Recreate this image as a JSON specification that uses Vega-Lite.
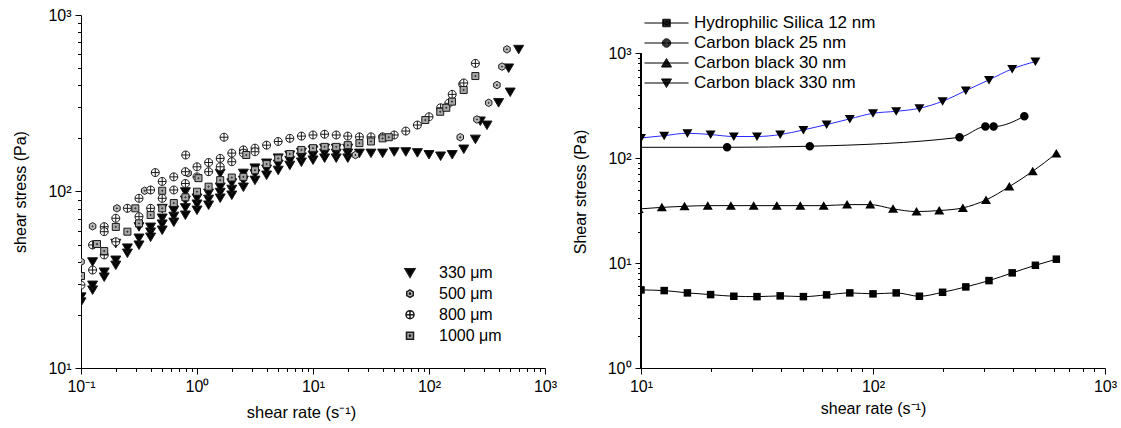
{
  "$schema": "https://vega.github.io/schema/vega-lite/v6.json",
  "background": "white",
  "padding": {"left": 12, "top": 7, "right": 5, "bottom": 5},
  "spacing": 15,
  "resolve": {
    "scale": {"shape": "independent", "fill": "independent", "stroke": "independent", "color": "independent"}
  },
  "config": {
    "view": {"stroke": null},
    "font": "Liberation Sans",
    "axis": {
      "domainColor": "black", "domainWidth": 1, "tickColor": "black", "tickWidth": 1,
      "labelColor": "black", "titleColor": "black", "labelFont": "Liberation Sans", "titleFont": "Liberation Sans",
      "labelFontSize": 16, "titleFontSize": 16, "titleFontWeight": "normal", "grid": false,
      "labelFlush": false, "labelOverlap": false, "labelBound": false, "labelPadding": 4
    },
    "legend": {"labelFont": "Liberation Sans", "labelColor": "black", "labelLimit": 400}
  },
  "hconcat": [
    {
      "width": 464,
      "height": 353,
      "data": {"values": [
        {"p":"330 μm","x":0.1,"y":23.7},{"p":"330 μm","x":0.1,"y":25.3},
        {"p":"330 μm","x":0.1259,"y":27.7},{"p":"330 μm","x":0.1259,"y":29.5},{"p":"330 μm","x":0.1259,"y":40},
        {"p":"330 μm","x":0.1585,"y":32.8},{"p":"330 μm","x":0.1585,"y":35},
        {"p":"330 μm","x":0.1995,"y":38.3},{"p":"330 μm","x":0.1995,"y":40.9},{"p":"330 μm","x":0.1995,"y":50.9},
        {"p":"330 μm","x":0.2512,"y":44.8},{"p":"330 μm","x":0.2512,"y":47.9},
        {"p":"330 μm","x":0.3162,"y":49.8},{"p":"330 μm","x":0.3162,"y":54.5},{"p":"330 μm","x":0.3162,"y":63.2},
        {"p":"330 μm","x":0.3981,"y":55.2},{"p":"330 μm","x":0.3981,"y":59},{"p":"330 μm","x":0.3981,"y":62.9},
        {"p":"330 μm","x":0.5012,"y":60.5},{"p":"330 μm","x":0.5012,"y":65.5},{"p":"330 μm","x":0.5012,"y":70.8},{"p":"330 μm","x":0.5012,"y":80.3},
        {"p":"330 μm","x":0.631,"y":67.1},{"p":"330 μm","x":0.631,"y":72.5},{"p":"330 μm","x":0.631,"y":78.5},
        {"p":"330 μm","x":0.7943,"y":73.6},{"p":"330 μm","x":0.7943,"y":81},{"p":"330 μm","x":0.7943,"y":89.5},{"p":"330 μm","x":0.7943,"y":99.7},
        {"p":"330 μm","x":1,"y":78.5},{"p":"330 μm","x":1,"y":85},{"p":"330 μm","x":1,"y":91.9},
        {"p":"330 μm","x":1.259,"y":83.9},{"p":"330 μm","x":1.259,"y":90.5},{"p":"330 μm","x":1.259,"y":98},
        {"p":"330 μm","x":1.585,"y":91.9},{"p":"330 μm","x":1.585,"y":99},{"p":"330 μm","x":1.585,"y":106},{"p":"330 μm","x":1.585,"y":127},
        {"p":"330 μm","x":1.995,"y":95.5},{"p":"330 μm","x":1.995,"y":103},{"p":"330 μm","x":1.995,"y":112},
        {"p":"330 μm","x":2.512,"y":106},{"p":"330 μm","x":2.512,"y":116},{"p":"330 μm","x":2.512,"y":127},
        {"p":"330 μm","x":3.162,"y":116},{"p":"330 μm","x":3.162,"y":126},{"p":"330 μm","x":3.162,"y":136},
        {"p":"330 μm","x":3.981,"y":124},{"p":"330 μm","x":3.981,"y":134},{"p":"330 μm","x":3.981,"y":145},
        {"p":"330 μm","x":5.012,"y":132},{"p":"330 μm","x":5.012,"y":143},{"p":"330 μm","x":5.012,"y":155},
        {"p":"330 μm","x":6.31,"y":141},{"p":"330 μm","x":6.31,"y":150},{"p":"330 μm","x":6.31,"y":161},
        {"p":"330 μm","x":7.943,"y":147},{"p":"330 μm","x":7.943,"y":157},{"p":"330 μm","x":7.943,"y":167},
        {"p":"330 μm","x":10,"y":151},{"p":"330 μm","x":10,"y":161},{"p":"330 μm","x":10,"y":172},
        {"p":"330 μm","x":12.59,"y":155},{"p":"330 μm","x":12.59,"y":165},{"p":"330 μm","x":12.59,"y":176},
        {"p":"330 μm","x":15.85,"y":155},{"p":"330 μm","x":15.85,"y":165},{"p":"330 μm","x":15.85,"y":176},
        {"p":"330 μm","x":19.95,"y":155},{"p":"330 μm","x":19.95,"y":165},{"p":"330 μm","x":19.95,"y":176},
        {"p":"330 μm","x":25.12,"y":165},{"p":"330 μm","x":31.62,"y":165},{"p":"330 μm","x":39.81,"y":165},
        {"p":"330 μm","x":50.12,"y":168},{"p":"330 μm","x":63.1,"y":168},{"p":"330 μm","x":79.43,"y":166},
        {"p":"330 μm","x":100,"y":162},{"p":"330 μm","x":125.9,"y":159},{"p":"330 μm","x":158.5,"y":162},
        {"p":"330 μm","x":199.5,"y":174},{"p":"330 μm","x":251.2,"y":198},{"p":"330 μm","x":316.2,"y":238},
        {"p":"330 μm","x":398.1,"y":319},{"p":"330 μm","x":501.2,"y":366},
        {"p":"330 μm","x":277,"y":251},{"p":"330 μm","x":486,"y":501},{"p":"330 μm","x":593,"y":639},
        {"p":"500 μm","x":0.1,"y":40},{"p":"500 μm","x":0.1259,"y":63.5},{"p":"500 μm","x":0.1259,"y":49.8},
        {"p":"500 μm","x":0.204,"y":80.3},{"p":"500 μm","x":0.354,"y":101},{"p":"500 μm","x":0.837,"y":127},
        {"p":"500 μm","x":23.2,"y":161},{"p":"500 μm","x":186,"y":203},{"p":"500 μm","x":259,"y":256},
        {"p":"500 μm","x":327,"y":318},{"p":"500 μm","x":385,"y":401},{"p":"500 μm","x":426,"y":510},{"p":"500 μm","x":470,"y":639},
        {"p":"800 μm","x":0.1,"y":29.5},{"p":"800 μm","x":0.1259,"y":49.8},{"p":"800 μm","x":0.1259,"y":35.9},
        {"p":"800 μm","x":0.1585,"y":63.2},{"p":"800 μm","x":0.1585,"y":59.2},{"p":"800 μm","x":0.1585,"y":43.7},
        {"p":"800 μm","x":0.1995,"y":70.5},{"p":"800 μm","x":0.1995,"y":51.9},{"p":"800 μm","x":0.2512,"y":80.3},
        {"p":"800 μm","x":0.3162,"y":91.5},{"p":"800 μm","x":0.3162,"y":72},{"p":"800 μm","x":0.3981,"y":102},
        {"p":"800 μm","x":0.3981,"y":80.3},{"p":"800 μm","x":0.437,"y":128},{"p":"800 μm","x":0.5012,"y":114},
        {"p":"800 μm","x":0.5012,"y":91.5},{"p":"800 μm","x":0.631,"y":121},{"p":"800 μm","x":0.631,"y":102},
        {"p":"800 μm","x":0.8,"y":161},{"p":"800 μm","x":0.7943,"y":111},{"p":"800 μm","x":0.7943,"y":129.5},
        {"p":"800 μm","x":1,"y":138},{"p":"800 μm","x":1,"y":121},{"p":"800 μm","x":1.259,"y":146},
        {"p":"800 μm","x":1.259,"y":129.5},{"p":"800 μm","x":1.585,"y":154},{"p":"800 μm","x":1.585,"y":138},
        {"p":"800 μm","x":1.71,"y":203},{"p":"800 μm","x":1.995,"y":165},{"p":"800 μm","x":1.995,"y":147.5},
        {"p":"800 μm","x":2.512,"y":172},{"p":"800 μm","x":2.512,"y":165},{"p":"800 μm","x":3.162,"y":176},
        {"p":"800 μm","x":3.162,"y":168},{"p":"800 μm","x":3.981,"y":183},{"p":"800 μm","x":5.012,"y":192},
        {"p":"800 μm","x":6.31,"y":200},{"p":"800 μm","x":7.943,"y":206},{"p":"800 μm","x":10,"y":209},
        {"p":"800 μm","x":12.59,"y":211},{"p":"800 μm","x":15.85,"y":209},{"p":"800 μm","x":19.95,"y":206},
        {"p":"800 μm","x":25.12,"y":204},{"p":"800 μm","x":31.62,"y":204},{"p":"800 μm","x":39.81,"y":204},
        {"p":"800 μm","x":50.12,"y":209},{"p":"800 μm","x":63.1,"y":220},{"p":"800 μm","x":79.43,"y":238},
        {"p":"800 μm","x":100,"y":265},{"p":"800 μm","x":125.9,"y":298},{"p":"800 μm","x":148,"y":316},
        {"p":"800 μm","x":158.5,"y":355},{"p":"800 μm","x":195,"y":405},{"p":"800 μm","x":199.5,"y":412},
        {"p":"800 μm","x":251.2,"y":532},
        {"p":"1000 μm","x":0.1,"y":33.2},{"p":"1000 μm","x":0.1374,"y":50.4},{"p":"1000 μm","x":0.1585,"y":46},
        {"p":"1000 μm","x":0.1995,"y":63},{"p":"1000 μm","x":0.2512,"y":59.2},{"p":"1000 μm","x":0.294,"y":80.3},
        {"p":"1000 μm","x":0.3162,"y":66},{"p":"1000 μm","x":0.3981,"y":73.6},{"p":"1000 μm","x":0.5012,"y":80.3},
        {"p":"1000 μm","x":0.5012,"y":101},{"p":"1000 μm","x":0.631,"y":86},{"p":"1000 μm","x":0.7943,"y":92.7},
        {"p":"1000 μm","x":1,"y":99.7},{"p":"1000 μm","x":1.03,"y":119},{"p":"1000 μm","x":1.259,"y":106.5},
        {"p":"1000 μm","x":1.585,"y":116},{"p":"1000 μm","x":1.995,"y":120},{"p":"1000 μm","x":2.66,"y":161},
        {"p":"1000 μm","x":2.512,"y":121},{"p":"1000 μm","x":3.162,"y":132},{"p":"1000 μm","x":3.981,"y":143},
        {"p":"1000 μm","x":5.012,"y":154},{"p":"1000 μm","x":6.31,"y":163},{"p":"1000 μm","x":7.943,"y":172},
        {"p":"1000 μm","x":10,"y":176},{"p":"1000 μm","x":12.59,"y":179},{"p":"1000 μm","x":15.85,"y":179},
        {"p":"1000 μm","x":19.95,"y":183},{"p":"1000 μm","x":25.12,"y":188},{"p":"1000 μm","x":31.62,"y":192},
        {"p":"1000 μm","x":39.81,"y":200},{"p":"1000 μm","x":45,"y":203},{"p":"1000 μm","x":92.9,"y":254},
        {"p":"1000 μm","x":125,"y":283},{"p":"1000 μm","x":141,"y":298},{"p":"1000 μm","x":158,"y":323},
        {"p":"1000 μm","x":199,"y":376},{"p":"1000 μm","x":251,"y":451}
      ]},
      "mark": {"type": "point", "filled": true, "opacity": 1, "size": 100, "stroke": "#1a1a1a", "strokeWidth": 1, "clip": true},
      "encoding": {
        "x": {"field": "x", "type": "quantitative",
          "scale": {"type": "log", "domain": [0.1, 1000]},
          "axis": {"title": "shear rate (s⁻¹)", "titlePadding": 10, "titleX": 220, "titleFontSize": 16.5,
            "values": [0.1,0.2,0.3,0.4,0.5,0.6,0.7,0.8,0.9,1,2,3,4,5,6,7,8,9,10,20,30,40,50,60,70,80,90,100,200,300,400,500,600,700,800,900,1000],
            "tickSize": {"condition": {"test": "abs(log(datum.value)/LN10 - round(log(datum.value)/LN10)) < 0.01", "value": 6}, "value": 3.5},
            "labelExpr": "datum.value == 0.1 ? '10⁻¹' : datum.value == 1 ? '10⁰' : datum.value == 10 ? '10¹' : datum.value == 100 ? '10²' : datum.value == 1000 ? '10³' : ''"}},
        "y": {"field": "y", "type": "quantitative",
          "scale": {"type": "log", "domain": [10, 1000]},
          "axis": {"title": "shear stress (Pa)", "titlePadding": 19,
            "values": [10,20,30,40,50,60,70,80,90,100,200,300,400,500,600,700,800,900,1000],
            "tickSize": {"condition": {"test": "abs(log(datum.value)/LN10 - round(log(datum.value)/LN10)) < 0.01", "value": 6}, "value": 3.5},
            "labelExpr": "datum.value == 0.1 ? '10⁻¹' : datum.value == 1 ? '10⁰' : datum.value == 10 ? '10¹' : datum.value == 100 ? '10²' : datum.value == 1000 ? '10³' : ''"}},
        "shape": {"field": "p", "type": "nominal",
          "scale": {"domain": ["330 μm", "500 μm", "800 μm", "1000 μm"],
            "range": [
              "M-1,-0.8L1,-0.8L0,0.9Z",
              "M0,-0.75L0.65,-0.375L0.65,0.375L0,0.75L-0.65,0.375L-0.65,-0.375Z M0.12,0A0.12,0.12,0,1,1,-0.12,0A0.12,0.12,0,1,1,0.12,0Z",
              "M-0.8,0A0.8,0.8,0,1,1,0.8,0A0.8,0.8,0,1,1,-0.8,0Z M-0.8,0L0.8,0 M0,-0.8L0,0.8",
              "M-0.7,-0.7H0.7V0.7H-0.7Z M0.12,0A0.12,0.12,0,1,1,-0.12,0A0.12,0.12,0,1,1,0.12,0Z"
            ]},
          "legend": {"title": null, "orient": "none", "legendX": 321, "legendY": 249.7, "padding": 0, "labelFontSize": 16, "symbolSize": 100, "labelOffset": 21, "rowPadding": 5,
            "encode": {"symbols": {"update": {"stroke": {"value": "#1a1a1a"}, "strokeWidth": {"value": 1}, "opacity": {"value": 1}}}}}},
        "fill": {"field": "p", "type": "nominal",
          "scale": {"domain": ["330 μm", "500 μm", "800 μm", "1000 μm"], "range": ["black", "#bdbdbd", "white", "#a6a6a6"]},
          "legend": {"title": null, "orient": "none", "legendX": 321, "legendY": 249.7, "padding": 0, "labelFontSize": 16, "symbolSize": 100, "labelOffset": 21, "rowPadding": 5,
            "encode": {"symbols": {"update": {"stroke": {"value": "#1a1a1a"}, "strokeWidth": {"value": 1}, "opacity": {"value": 1}}}}}}
      }
    },
    {
      "width": 464,
      "height": 353,
      "resolve": {"scale": {"shape": "independent"}},
      "data": {"values": [
        {"s":"Hydrophilic Silica 12 nm","x":10,"y":5.55},{"s":"Hydrophilic Silica 12 nm","x":12.59,"y":5.47},
        {"s":"Hydrophilic Silica 12 nm","x":15.85,"y":5.2},{"s":"Hydrophilic Silica 12 nm","x":19.95,"y":5.01},
        {"s":"Hydrophilic Silica 12 nm","x":25.12,"y":4.83},{"s":"Hydrophilic Silica 12 nm","x":31.62,"y":4.79},
        {"s":"Hydrophilic Silica 12 nm","x":39.81,"y":4.87},{"s":"Hydrophilic Silica 12 nm","x":50.12,"y":4.79},
        {"s":"Hydrophilic Silica 12 nm","x":63.1,"y":4.98},{"s":"Hydrophilic Silica 12 nm","x":79.43,"y":5.2},
        {"s":"Hydrophilic Silica 12 nm","x":100,"y":5.09},{"s":"Hydrophilic Silica 12 nm","x":125.9,"y":5.2},
        {"s":"Hydrophilic Silica 12 nm","x":158.5,"y":4.83},{"s":"Hydrophilic Silica 12 nm","x":199.5,"y":5.27},
        {"s":"Hydrophilic Silica 12 nm","x":251.2,"y":5.93},{"s":"Hydrophilic Silica 12 nm","x":316.2,"y":6.81},
        {"s":"Hydrophilic Silica 12 nm","x":398.1,"y":8.07},{"s":"Hydrophilic Silica 12 nm","x":501.2,"y":9.53},
        {"s":"Hydrophilic Silica 12 nm","x":617,"y":10.9},
        {"s":"Carbon black 25 nm","x":5,"y":127},{"s":"Carbon black 25 nm","x":23.5,"y":127},
        {"s":"Carbon black 25 nm","x":53.4,"y":130},{"s":"Carbon black 25 nm","x":236,"y":158},
        {"s":"Carbon black 25 nm","x":305,"y":200},{"s":"Carbon black 25 nm","x":331,"y":200},
        {"s":"Carbon black 25 nm","x":449,"y":251},
        {"s":"Carbon black 30 nm","x":9.77,"y":32.8},{"s":"Carbon black 30 nm","x":12.3,"y":34},
        {"s":"Carbon black 30 nm","x":15.4,"y":34.8},{"s":"Carbon black 30 nm","x":19.4,"y":35.3},
        {"s":"Carbon black 30 nm","x":24.4,"y":35.3},{"s":"Carbon black 30 nm","x":30.6,"y":35.3},
        {"s":"Carbon black 30 nm","x":38.5,"y":35.3},{"s":"Carbon black 30 nm","x":48.6,"y":35.3},
        {"s":"Carbon black 30 nm","x":61.3,"y":35.3},{"s":"Carbon black 30 nm","x":77.3,"y":36.1},
        {"s":"Carbon black 30 nm","x":97.3,"y":36.1},{"s":"Carbon black 30 nm","x":122,"y":32.9},
        {"s":"Carbon black 30 nm","x":154,"y":31},{"s":"Carbon black 30 nm","x":193,"y":31.7},
        {"s":"Carbon black 30 nm","x":244,"y":33.6},{"s":"Carbon black 30 nm","x":307,"y":40},
        {"s":"Carbon black 30 nm","x":387,"y":53.6},{"s":"Carbon black 30 nm","x":488,"y":75},
        {"s":"Carbon black 30 nm","x":617,"y":111},
        {"s":"Carbon black 330 nm","x":10,"y":156},{"s":"Carbon black 330 nm","x":12.59,"y":164},
        {"s":"Carbon black 330 nm","x":15.85,"y":173},{"s":"Carbon black 330 nm","x":19.95,"y":168},
        {"s":"Carbon black 330 nm","x":25.12,"y":161},{"s":"Carbon black 330 nm","x":31.62,"y":161},
        {"s":"Carbon black 330 nm","x":39.81,"y":168},{"s":"Carbon black 330 nm","x":50.12,"y":186},
        {"s":"Carbon black 330 nm","x":63.1,"y":209},{"s":"Carbon black 330 nm","x":79.43,"y":237},
        {"s":"Carbon black 330 nm","x":100,"y":268},{"s":"Carbon black 330 nm","x":125.9,"y":280},
        {"s":"Carbon black 330 nm","x":158.5,"y":299},{"s":"Carbon black 330 nm","x":199.5,"y":349},
        {"s":"Carbon black 330 nm","x":251.2,"y":441},{"s":"Carbon black 330 nm","x":316.2,"y":558},
        {"s":"Carbon black 330 nm","x":398.1,"y":710},{"s":"Carbon black 330 nm","x":501.2,"y":834}
      ]},
      "encoding": {
        "x": {"field": "x", "type": "quantitative",
          "scale": {"type": "log", "domain": [10, 1000]},
          "axis": {"title": "shear rate (s⁻¹)", "titlePadding": 6,
            "values": [10,20,30,40,50,60,70,80,90,100,200,300,400,500,600,700,800,900,1000],
            "tickSize": {"condition": {"test": "abs(log(datum.value)/LN10 - round(log(datum.value)/LN10)) < 0.01", "value": 6}, "value": 3.5},
            "labelExpr": "datum.value == 0.1 ? '10⁻¹' : datum.value == 1 ? '10⁰' : datum.value == 10 ? '10¹' : datum.value == 100 ? '10²' : datum.value == 1000 ? '10³' : ''"}},
        "y": {"field": "y", "type": "quantitative",
          "scale": {"type": "log", "domain": [1, 2318]},
          "axis": {"title": "Shear stress (Pa)", "titlePadding": 19, "domain": false,
            "values": [1,2,3,4,5,6,7,8,9,10,20,30,40,50,60,70,80,90,100,200,300,400,500,600,700,800,900,1000],
            "tickSize": {"condition": {"test": "abs(log(datum.value)/LN10 - round(log(datum.value)/LN10)) < 0.01", "value": 6}, "value": 3.5},
            "labelExpr": "datum.value == 0.1 ? '10⁻¹' : datum.value == 1 ? '10⁰' : datum.value == 10 ? '10¹' : datum.value == 100 ? '10²' : datum.value == 1000 ? '10³' : ''"}}
      },
      "layer": [
        {
          "mark": {"type": "rule", "color": "black", "strokeWidth": 1},
          "encoding": {"x": {"datum": 10, "type": "quantitative"}, "y": {"datum": 1, "type": "quantitative"}, "y2": {"datum": 1000}}
        },
        {
          "mark": {"type": "line", "strokeWidth": 1, "clip": true, "interpolate": "monotone"},
          "encoding": {
            "stroke": {"field": "s", "type": "nominal",
              "scale": {"domain": ["Hydrophilic Silica 12 nm", "Carbon black 25 nm", "Carbon black 30 nm", "Carbon black 330 nm"], "range": ["black", "black", "black", "#2a2aff"]},
              "legend": null}
          }
        },
        {
          "mark": {"type": "point", "filled": true, "opacity": 1, "size": 100, "color": "black", "clip": true},
          "encoding": {
            "shape": {"field": "s", "type": "nominal",
              "scale": {"domain": ["Hydrophilic Silica 12 nm", "Carbon black 25 nm", "Carbon black 30 nm", "Carbon black 330 nm"],
                "range": [
                  "M-0.75,-0.75H0.75V0.75H-0.75Z",
                  "M-0.85,0A0.85,0.85,0,1,1,0.85,0A0.85,0.85,0,1,1,-0.85,0Z",
                  "M0,-0.9L1,0.8L-1,0.8Z",
                  "M0,0.9L1,-0.8L-1,-0.8Z"
                ]},
              "legend": null
            }
          }
        },
        {
          "mark": {"type": "point", "filled": false, "opacity": 0, "size": 81, "strokeWidth": 1, "clip": true},
          "encoding": {
            "shape": {
              "field": "s", "type": "nominal",
              "scale": {"domain": ["Hydrophilic Silica 12 nm", "Carbon black 25 nm", "Carbon black 30 nm", "Carbon black 330 nm"],
                "range": [
                  "M-4.9,0H4.9M-0.83,-0.83H0.83V0.83H-0.83ZM-0.66,-0.66H0.66V0.66H-0.66ZM-0.5,-0.5H0.5V0.5H-0.5ZM-0.33,-0.33H0.33V0.33H-0.33ZM-0.17,-0.17H0.17V0.17H-0.17Z",
                  "M-4.9,0H4.9M-0.94,0A0.94,0.94,0,1,1,0.94,0A0.94,0.94,0,1,1,-0.94,0ZM-0.76,0A0.76,0.76,0,1,1,0.76,0A0.76,0.76,0,1,1,-0.76,0ZM-0.58,0A0.58,0.58,0,1,1,0.58,0A0.58,0.58,0,1,1,-0.58,0ZM-0.4,0A0.4,0.4,0,1,1,0.4,0A0.4,0.4,0,1,1,-0.4,0ZM-0.22,0A0.22,0.22,0,1,1,0.22,0A0.22,0.22,0,1,1,-0.22,0Z",
                  "M-4.9,0H4.9M0,-1L1.11,0.89L-1.11,0.89ZM0,-0.748L0.888,0.764L-0.888,0.764ZM0,-0.496L0.666,0.638L-0.666,0.638ZM0,-0.244L0.444,0.512L-0.444,0.512ZM0,0.008L0.222,0.386L-0.222,0.386Z",
                  "M-4.9,0H4.9M0,1L1.11,-0.89L-1.11,-0.89ZM0,0.748L0.888,-0.764L-0.888,-0.764ZM0,0.496L0.666,-0.638L-0.666,-0.638ZM0,0.244L0.444,-0.512L-0.444,-0.512ZM0,-0.008L0.222,-0.386L-0.222,-0.386Z"
                ]},
              "legend": {
                "title": null, "orient": "none", "legendX": 17, "legendY": -0.5, "padding": 0, "labelFontSize": 17, "symbolSize": 81, "labelOffset": 19, "rowPadding": 2,
                "symbolFillColor": "black", "symbolStrokeColor": "black", "symbolOpacity": 1, "symbolStrokeWidth": 1,
                "encode": {"symbols": {"update": {"fill": {"value": "black"}, "fillOpacity": {"value": 1}, "opacity": {"value": 1}, "strokeOpacity": {"value": 1}, "strokeWidth": {"value": 1}}}}
              }
            },
            "color": {
              "field": "s", "type": "nominal",
              "scale": {"domain": ["Hydrophilic Silica 12 nm", "Carbon black 25 nm", "Carbon black 30 nm", "Carbon black 330 nm"], "range": ["black", "black", "black", "#2a2aff"]},
              "legend": {
                "title": null, "orient": "none", "legendX": 17, "legendY": -0.5, "padding": 0, "labelFontSize": 17, "symbolSize": 81, "labelOffset": 19, "rowPadding": 2,
                "symbolFillColor": "black", "symbolStrokeColor": "black", "symbolOpacity": 1, "symbolStrokeWidth": 1,
                "encode": {"symbols": {"update": {"fill": {"value": "black"}, "fillOpacity": {"value": 1}, "opacity": {"value": 1}, "strokeOpacity": {"value": 1}, "strokeWidth": {"value": 1}}}}
              }
            }
          }
        }
      ]
    }
  ]
}
